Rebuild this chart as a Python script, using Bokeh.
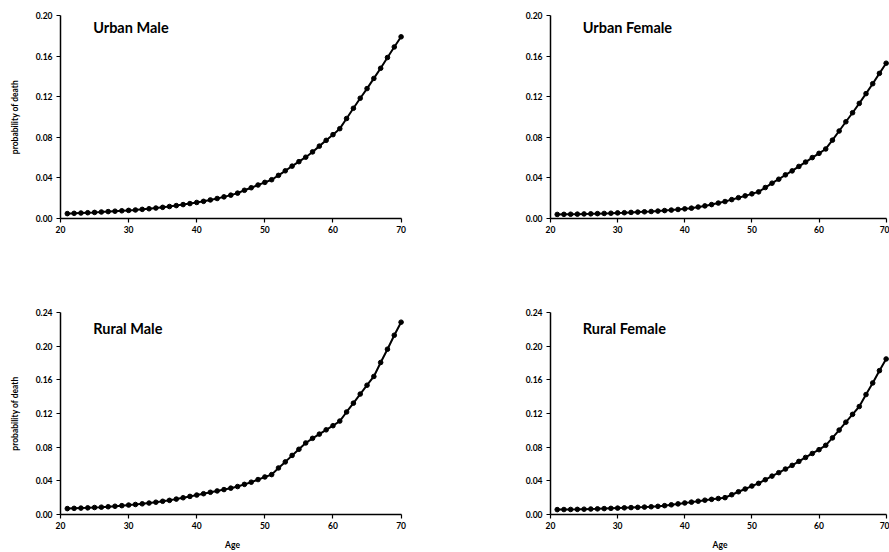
from bokeh.plotting import figure
from bokeh.layouts import column, row
from bokeh.models import Range1d, FixedTicker, NumeralTickFormatter, Label
from bokeh.embed import file_html
from bokeh.resources import INLINE

# ---------------- data ----------------
ages = list(range(21, 71))

urban_male = [0.0048, 0.0051, 0.0054, 0.0057, 0.0060, 0.0064, 0.0068, 0.0072, 0.0076, 0.0080,
              0.0084, 0.0090, 0.0096, 0.0103, 0.0110, 0.0118, 0.0127, 0.0137, 0.0147, 0.0158,
              0.0169, 0.0183, 0.0197, 0.0213, 0.0230, 0.0250, 0.0278, 0.0303, 0.0330, 0.0356,
              0.0382, 0.0425, 0.0470, 0.0516, 0.0560, 0.0604, 0.0656, 0.0713, 0.0770, 0.0826,
              0.0885, 0.0985, 0.1086, 0.1185, 0.1280, 0.1380, 0.1480, 0.1586, 0.1690, 0.1790]

urban_female = [0.0040, 0.0041, 0.0042, 0.0043, 0.0045, 0.0046, 0.0048, 0.0050, 0.0052, 0.0055,
                0.0057, 0.0060, 0.0063, 0.0066, 0.0069, 0.0073, 0.0078, 0.0083, 0.0089, 0.0095,
                0.0102, 0.0113, 0.0124, 0.0137, 0.0152, 0.0167, 0.0186, 0.0205, 0.0223, 0.0243,
                0.0262, 0.0305, 0.0348, 0.0387, 0.0430, 0.0469, 0.0513, 0.0556, 0.0600, 0.0642,
                0.0685, 0.0772, 0.0862, 0.0953, 0.1042, 0.1134, 0.1230, 0.1328, 0.1430, 0.1530]

rural_male = [0.0070, 0.0073, 0.0076, 0.0079, 0.0083, 0.0087, 0.0092, 0.0098, 0.0105, 0.0112,
              0.0119, 0.0127, 0.0136, 0.0146, 0.0157, 0.0168, 0.0183, 0.0199, 0.0215, 0.0231,
              0.0247, 0.0264, 0.0280, 0.0296, 0.0313, 0.0332, 0.0358, 0.0384, 0.0415, 0.0446,
              0.0474, 0.0553, 0.0625, 0.0702, 0.0775, 0.0850, 0.0905, 0.0955, 0.1006, 0.1055,
              0.1110, 0.1218, 0.1323, 0.1431, 0.1536, 0.1640, 0.1806, 0.1964, 0.2130, 0.2285]

rural_female = [0.0058, 0.0059, 0.0060, 0.0061, 0.0063, 0.0065, 0.0067, 0.0070, 0.0073, 0.0076,
                0.0079, 0.0082, 0.0085, 0.0088, 0.0092, 0.0097, 0.0105, 0.0115, 0.0126, 0.0137,
                0.0147, 0.0158, 0.0170, 0.0180, 0.0190, 0.0200, 0.0235, 0.0270, 0.0303, 0.0338,
                0.0370, 0.0413, 0.0456, 0.0497, 0.0540, 0.0584, 0.0631, 0.0678, 0.0725, 0.0770,
                0.0822, 0.0910, 0.1003, 0.1097, 0.1190, 0.1283, 0.1425, 0.1563, 0.1709, 0.1848]

titles = ["Urban Male", "Urban Female", "Rural Male", "Rural Female"]
x_ticks = [20, 30, 40, 50, 60, 70]
y_ticks_top = [0.00, 0.04, 0.08, 0.12, 0.16, 0.20]
y_ticks_bottom = [0.00, 0.04, 0.08, 0.12, 0.16, 0.20, 0.24]
y_label = "probability of death"
x_label = "Age"

FONT = "Lato"


def make_panel(vals, title, yticks, width, height, b_left, b_right, b_top, b_bottom,
               show_ylabel, show_xlabel, title_y):
    p = figure(width=width, height=height, output_backend="svg", toolbar_location=None,
               x_range=Range1d(20, 70.5), y_range=Range1d(0, yticks[-1]),
               min_border_left=b_left, min_border_right=b_right,
               min_border_top=b_top, min_border_bottom=b_bottom)
    p.outline_line_color = None
    p.xgrid.visible = False
    p.ygrid.visible = False
    p.background_fill_color = "white"
    p.border_fill_color = "white"

    p.line(ages, vals, line_color="black", line_width=2)
    p.scatter(ages, vals, size=4.6, fill_color="black", line_color="black")

    for ax in (p.xaxis[0], p.yaxis[0]):
        ax.axis_line_color = "black"
        ax.axis_line_width = 1.5
        ax.major_tick_line_color = "black"
        ax.major_tick_line_width = 1.2
        ax.major_tick_in = 0
        ax.major_tick_out = 4
        ax.minor_tick_line_color = None
        ax.major_label_text_font = FONT
        ax.major_label_text_font_style = "bold"
        ax.major_label_text_font_size = "8.5px"
        ax.major_label_text_color = "black"
        ax.axis_label_text_font = FONT
        ax.axis_label_text_font_style = "bold"
        ax.axis_label_text_font_size = "8.5px"
        ax.axis_label_text_color = "black"

    xa = p.xaxis[0]
    xa.ticker = FixedTicker(ticks=x_ticks)
    xa.bounds = (20, 70)
    xa.major_label_standoff = 3
    if show_xlabel:
        xa.axis_label = x_label
        xa.axis_label_standoff = 8

    ya = p.yaxis[0]
    ya.ticker = FixedTicker(ticks=yticks)
    ya.formatter = NumeralTickFormatter(format="0.00")
    ya.major_label_standoff = 4
    if show_ylabel:
        ya.axis_label = y_label
        ya.axis_label_standoff = 13

    p.add_layout(Label(x=24.8, y=title_y, text=title, text_font=FONT,
                       text_font_style="bold", text_font_size="14.5px",
                       text_color="black", text_baseline="middle"))
    return p


WL, WR = 500, 389
HT, HB = 280, 272

p1 = make_panel(urban_male, titles[0], y_ticks_top, WL, HT, 60, 96, 15, HT - 15 - 203, True, False, 0.188)
p2 = make_panel(urban_female, titles[1], y_ticks_top, WR, HT, 50, 0, 15, HT - 15 - 203, False, False, 0.188)
p3 = make_panel(rural_male, titles[2], y_ticks_bottom, WL, HB, 60, 96, 32, 38, True, True, 0.221)
p4 = make_panel(rural_female, titles[3], y_ticks_bottom, WR, HB, 50, 0, 32, 38, False, True, 0.221)

layout = column(row(p1, p2), row(p3, p4))

open("out.html", "w").write(file_html(layout, INLINE))
